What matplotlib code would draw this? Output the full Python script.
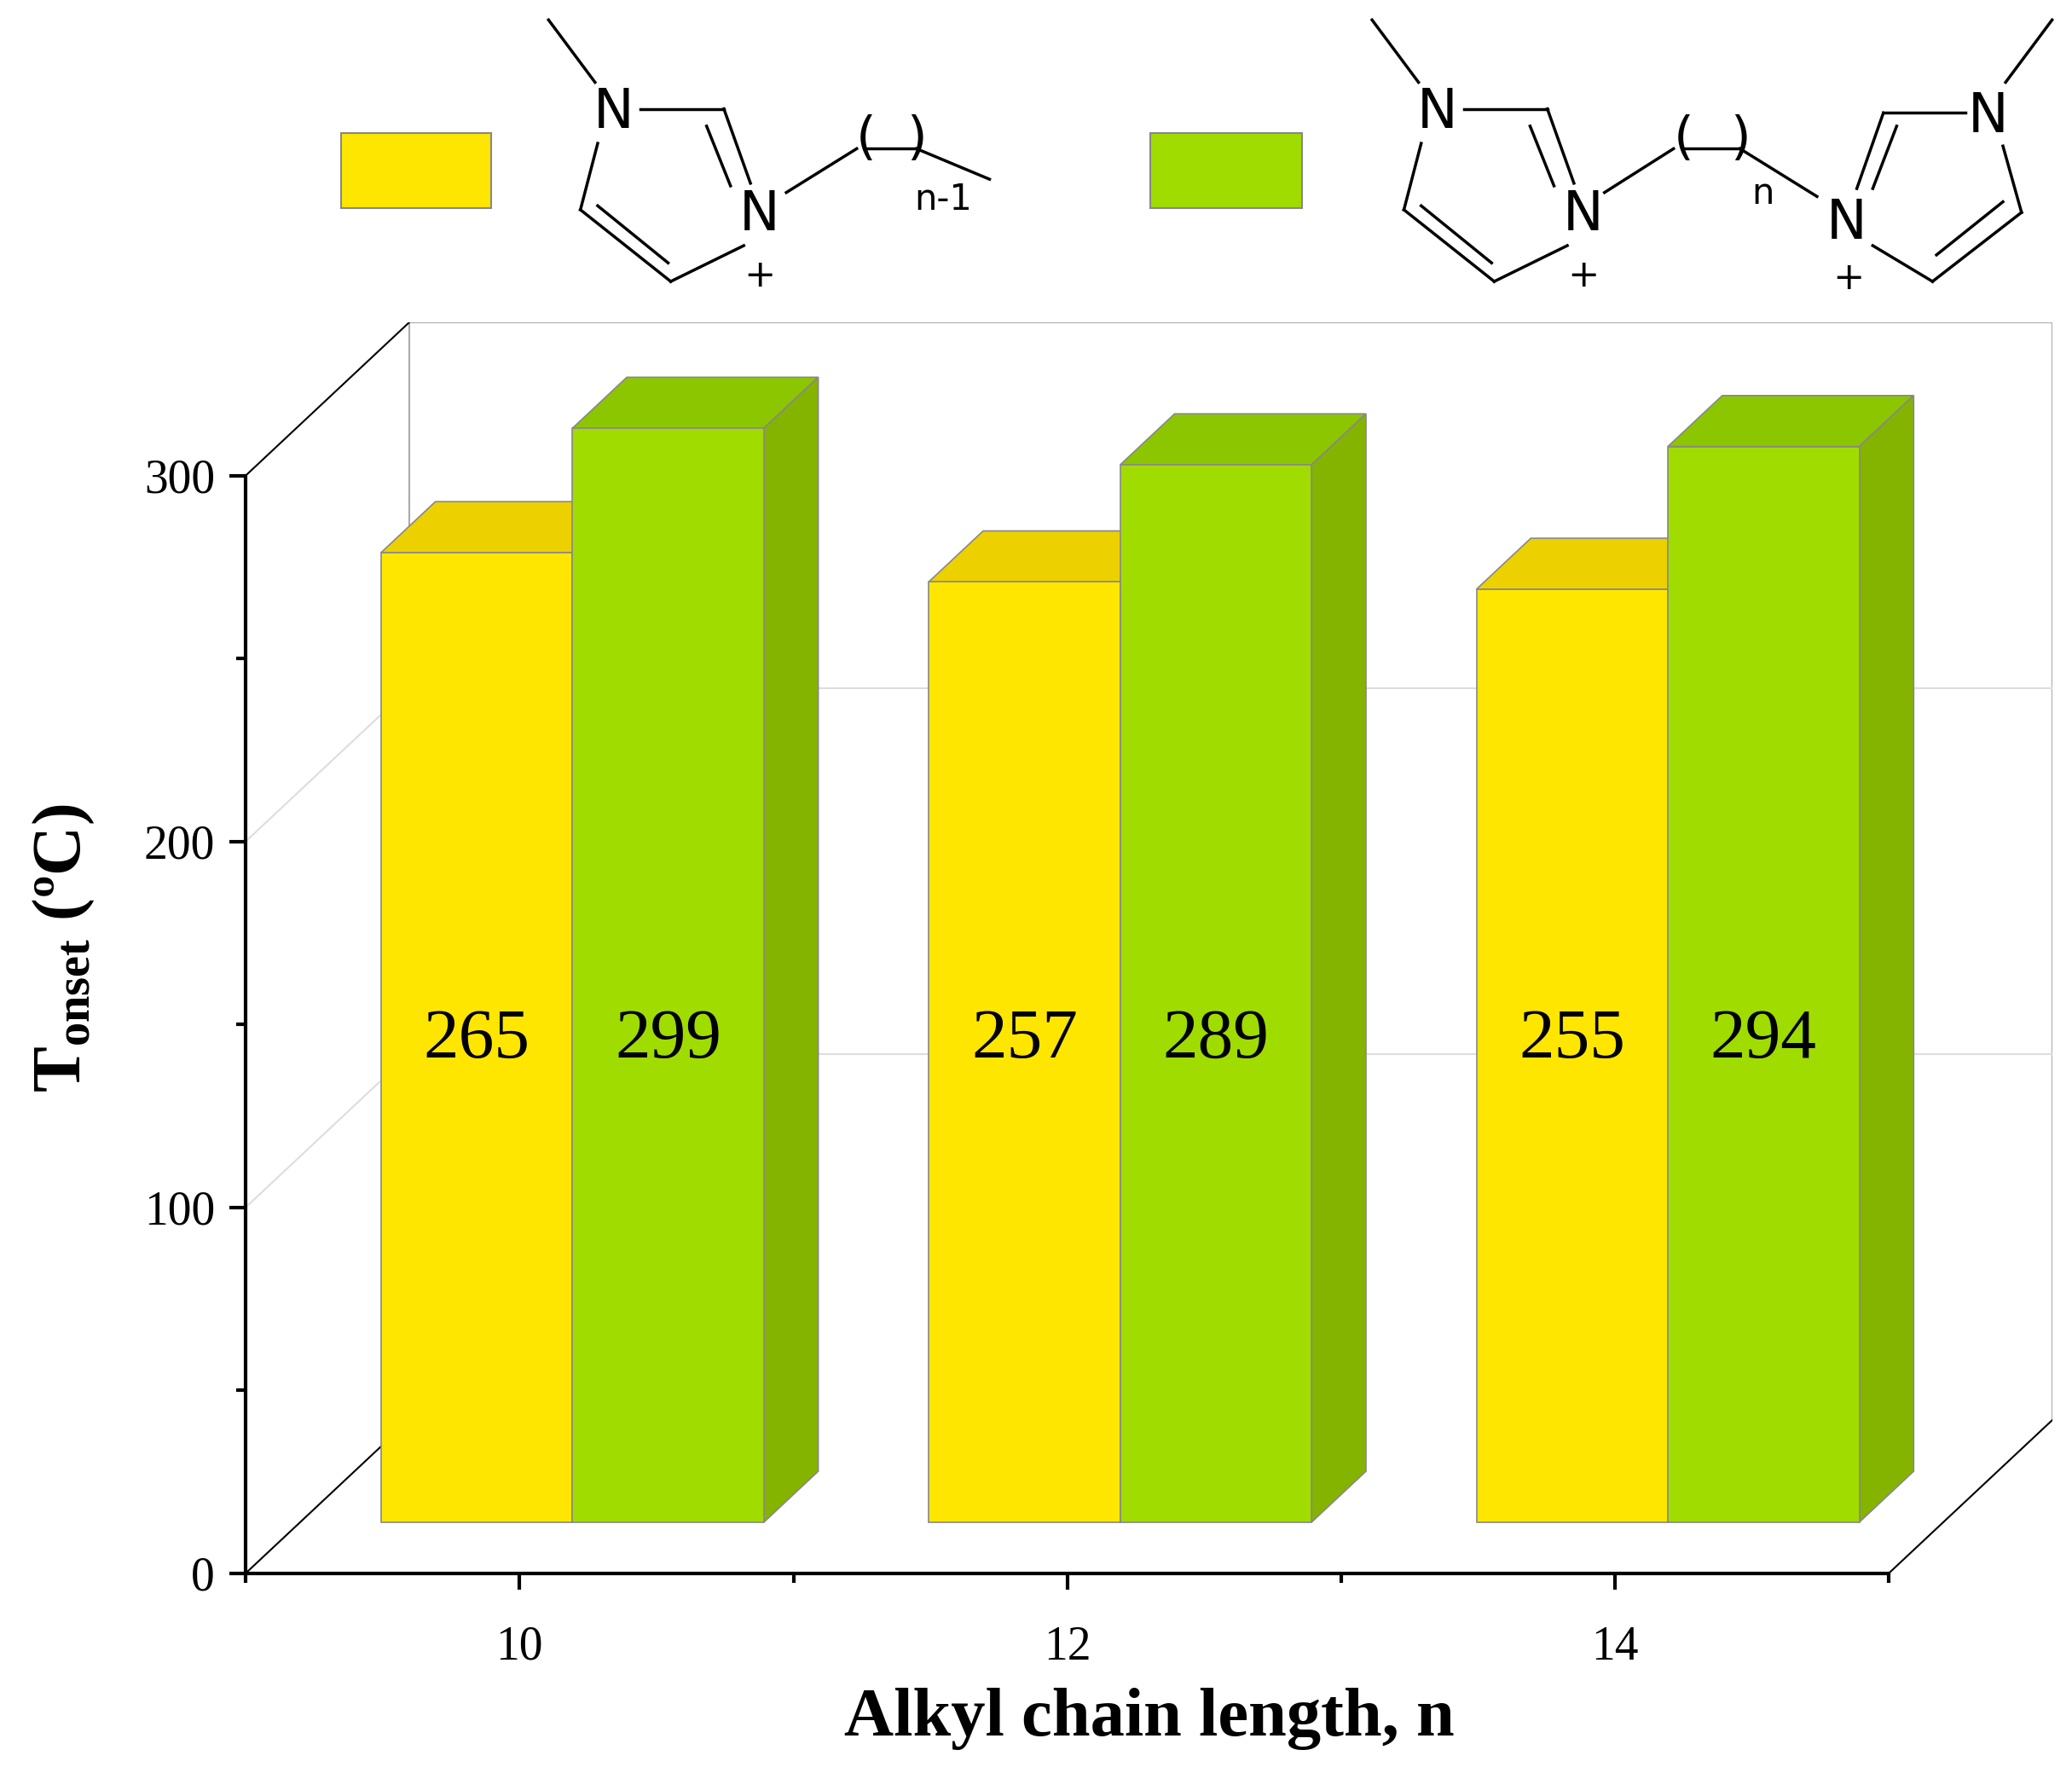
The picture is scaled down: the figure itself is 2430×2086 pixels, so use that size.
import matplotlib
matplotlib.use("Agg")
import matplotlib.pyplot as plt
from matplotlib.patches import Polygon, Rectangle

categories = [10, 12, 14]
mono_values = [265, 257, 255]
di_values = [299, 289, 294]
yticks = [0, 100, 200, 300]

plt.rcParams['font.family'] = ['Liberation Serif', 'DejaVu Serif']
plt.rcParams['mathtext.fontset'] = 'custom'
plt.rcParams['mathtext.rm'] = 'Liberation Serif'
plt.rcParams['mathtext.bf'] = 'Liberation Serif:bold'

W, H = 1560, 1340
fig = plt.figure(figsize=(24.3, 20.86), dpi=100)
ax = fig.add_axes([185/W, 1-1185/H, (1545-185)/W, (1185-243)/H])
ax.set_xlim(9, 15.596)
ax.set_ylim(0, 341.8)
ax.patch.set_alpha(0)

DX, DY = 0.596, 41.8       # full depth
bx, by = DX/3, DY/3        # bar front offset / bar depth
gray = '#aaaaaa'

# back wall
ax.plot([9+DX, 15+DX, 15+DX], [300+DY, 300+DY, DY], color=gray, lw=1.5, zorder=1)
ax.plot([9+DX, 9+DX], [DY, 300+DY], color=gray, lw=1.5, zorder=1)
for g in [100, 200]:
    ax.plot([9+DX, 15+DX], [g+DY, g+DY], color='#dddddd', lw=1.5, zorder=1)
    ax.plot([9, 9+DX], [g, g+DY], color='#dddddd', lw=1.5, zorder=1)
for (x0, y0) in [(9, 0), (15, 0), (9, 300)]:
    ax.plot([x0, x0+DX], [y0, y0+DY], color='black', lw=1.5, zorder=1)

bw = 0.699
ec = '#888888'
for c, vm, vd in zip(categories, mono_values, di_values):
    for i, (v, cf, ct, cs) in enumerate([(vm, '#FFE600', '#EDD000', '#D8BE00'),
                                         (vd, '#A0DC00', '#8CC600', '#84B400')]):
        x0 = c - 0.506 + i*bw
        y0 = by
        top = v + by
        ax.add_patch(Polygon([(x0, top), (x0+bw, top), (x0+bw+bx, top+by), (x0+bx, top+by)],
                             closed=True, fc=ct, ec=ec, lw=1.2, zorder=3))
        ax.add_patch(Polygon([(x0+bw, y0), (x0+bw+bx, y0+by), (x0+bw+bx, top+by), (x0+bw, top)],
                             closed=True, fc=cs, ec=ec, lw=1.2, zorder=2 if i == 0 else 3))
        ax.add_patch(Rectangle((x0, y0), bw, v, fc=cf, ec=ec, lw=1.2, zorder=4))
        ax.text(x0+bw/2, 145.6, str(v), ha='center', va='center', fontsize=60, zorder=5)

for s in ['top', 'right']:
    ax.spines[s].set_visible(False)
ax.spines['left'].set_bounds(0, 300)
ax.spines['bottom'].set_bounds(9, 15)
for s in ['left', 'bottom']:
    ax.spines[s].set_linewidth(3)
ax.set_yticks(yticks)
ax.set_yticks([50, 150, 250], minor=True)
ax.set_xticks(categories)
ax.set_xticks([9, 11, 13, 15], minor=True)
ax.tick_params(which='major', length=14, width=3, labelsize=40, pad=12)
ax.tick_params(which='minor', length=8, width=3)
ax.tick_params(axis='x', which='major', pad=30)
ax.set_xlabel('Alkyl chain length, n', fontsize=58, fontweight='bold', labelpad=15)
ax.set_ylabel(r'$\mathbf{T_{onset}}$ (ºC)', fontsize=58, fontweight='bold', labelpad=40)

lg = fig.add_axes([0, 0, 1, 1])
lg.set_xlim(0, W); lg.set_ylim(H, 0); lg.axis('off'); lg.patch.set_alpha(0)
lg.add_patch(Rectangle((257, 100), 113, 57, fc='#FFE600', ec='#888888', lw=1.5))
lg.add_patch(Rectangle((866, 100), 114, 57, fc='#A0DC00', ec='#888888', lw=1.5))
kw = dict(color='black', lw=2.5)
fs = 46
def ring_left(ox):
    lg.plot([ox+413, ox+448], [15, 62], **kw)
    lg.text(ox+462, 85, 'N', fontsize=fs, family='DejaVu Sans', ha='center', va='center')
    lg.plot([ox+482, ox+545], [82, 82], **kw)
    lg.plot([ox+545, ox+565], [82, 138], **kw)
    lg.plot([ox+532, ox+550], [95, 140], **kw)
    lg.text(ox+572, 162, 'N', fontsize=fs, family='DejaVu Sans', ha='center', va='center')
    lg.text(ox+572, 208, '+', fontsize=32, family='DejaVu Sans', ha='center', va='center')
    lg.plot([ox+560, ox+505], [185, 212], **kw)
    lg.plot([ox+505, ox+437], [212, 158], **kw)
    lg.plot([ox+503, ox+450], [198, 155], **kw)
    lg.plot([ox+437, ox+450], [158, 108], **kw)
ring_left(0)
lg.plot([592, 645], [145, 112], **kw)
lg.text(652, 105, '(', fontsize=44, family='DejaVu Sans', ha='center', va='center')
lg.text(690, 105, ')', fontsize=44, family='DejaVu Sans', ha='center', va='center')
lg.plot([652, 690], [112, 112], **kw)
lg.plot([690, 745], [112, 135], **kw)
lg.text(710, 150, 'n-1', fontsize=30, family='DejaVu Sans', ha='center', va='center')

ring_left(620)
lg.plot([1208, 1260], [145, 112], **kw)
lg.text(1268, 105, '(', fontsize=44, family='DejaVu Sans', ha='center', va='center')
lg.text(1310, 105, ')', fontsize=44, family='DejaVu Sans', ha='center', va='center')
lg.plot([1268, 1310], [112, 112], **kw)
lg.plot([1310, 1368], [112, 148], **kw)
lg.text(1327, 146, 'n', fontsize=30, family='DejaVu Sans', ha='center', va='center')
lg.text(1390, 168, 'N', fontsize=fs, family='DejaVu Sans', ha='center', va='center')
lg.text(1392, 210, '+', fontsize=32, family='DejaVu Sans', ha='center', va='center')
lg.plot([1398, 1418], [142, 85], **kw)
lg.plot([1410, 1428], [142, 95], **kw)
lg.plot([1418, 1480], [85, 85], **kw)
lg.text(1497, 88, 'N', fontsize=fs, family='DejaVu Sans', ha='center', va='center')
lg.plot([1510, 1545], [62, 15], **kw)
lg.plot([1508, 1522], [110, 160], **kw)
lg.plot([1522, 1455], [160, 212], **kw)
lg.plot([1508, 1458], [152, 192], **kw)
lg.plot([1455, 1410], [212, 185], **kw)

fig.savefig('out.png', dpi=100)
